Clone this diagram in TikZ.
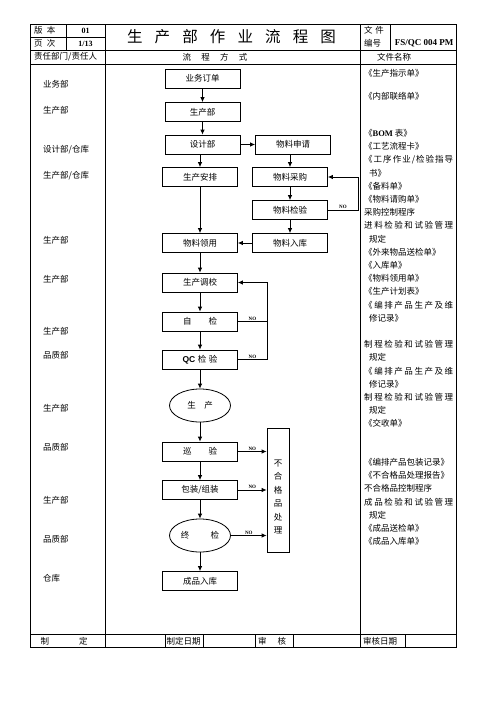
\documentclass[tikz,border=0pt]{standalone}
\usepackage{fontspec}
\setmainfont{Noto Sans CJK SC}
\newfontfamily\latin{Liberation Serif}
\newfontfamily\qcfont{Liberation Sans}
\usetikzlibrary{arrows.meta,shapes.geometric}
\def\spreadit#1#2\endspread{#1\ifx\relax#2\relax\else\hfill\spreadit#2\endspread\fi}
\newcommand{\fullline}[1]{\makebox[89pt][s]{\spreadit#1\endspread}}
\begin{document}
\begin{tikzpicture}[x=1pt,y=-1pt,
    box/.style={draw,line width=0.8pt,minimum width=75pt,minimum height=19pt,inner sep=0pt,font=\fontsize{8.5}{10}\selectfont},
    oval/.style={draw,ellipse,line width=0.8pt,minimum width=61pt,minimum height=33pt,inner sep=0pt,font=\fontsize{8.5}{10}\selectfont},
    flow/.style={line width=0.8pt,-{Latex[length=5pt,width=4.5pt]}},
    nolabel/.style={above,inner sep=0.8pt,font=\latin\bfseries\fontsize{5}{5}\selectfont},
    lbl/.style={anchor=west,inner sep=0pt,font=\fontsize{8.5}{10}\selectfont}]
    \useasboundingbox (0,0) rectangle (496,702);

    % table frame
    \draw[line width=0.8pt] (30,24) rectangle (456,647);
    \draw[line width=0.8pt] (30,37) -- (105,37) (30,50) -- (456,50) (30,64) -- (456,64) (30,634) -- (456,634)
        (66,24) -- (66,50) (105,24) -- (105,647) (360,24) -- (360,647) (390,24) -- (390,50)
        (165,634) -- (165,647) (203,634) -- (203,647) (255,634) -- (255,647) (293,634) -- (293,647) (405,634) -- (405,647);

    % header
    \node[lbl] (ver) at (34,30.5) {版\hspace{0.5em}本};
    \node[lbl] (page) at (34,43.5) {页\hspace{0.5em}次};
    \node[inner sep=0pt,font=\latin\bfseries\fontsize{8}{8}\selectfont] (vernum) at (85.5,30.5) {01};
    \node[inner sep=0pt,font=\latin\bfseries\fontsize{8}{8}\selectfont] (pagenum) at (85.5,43.5) {1/13};
    \node[inner sep=0pt,font=\fontsize{15.5}{16}\selectfont] (title) at (231.5,37) {\makebox[209pt][s]{生\hfill 产\hfill 部\hfill 作\hfill 业\hfill 流\hfill 程\hfill 图}};
    \node[lbl] (docword) at (364,30) {文\hspace{0.3em}件};
    \node[lbl] (numword) at (364,43) {编号};
    \node[inner sep=0pt,font=\latin\bfseries\fontsize{9}{9}\selectfont] (docnum) at (424,43) {FS/QC 004 PM};
    \node[lbl] (resp) at (34,57) {责任部门/责任人};
    \node[inner sep=0pt,font=\fontsize{8.5}{10}\selectfont] (method) at (215,57) {流\hspace{1.2em}程\hspace{1.2em}方\hspace{1.2em}式};
    \node[inner sep=0pt,font=\fontsize{8.5}{10}\selectfont] (docname) at (394,57) {文件名称};

    % departments
    \node[lbl] (dsales) at (43,84) {业务部};
    \node[lbl] (dprod) at (43,110) {生产部};
    \node[lbl] (ddesign) at (43,149.5) {设计部/仓库};
    \node[lbl] (dplan) at (43,175.5) {生产部/仓库};
    \node[lbl] (dpick) at (43,240) {生产部};
    \node[lbl] (dadjust) at (43,279) {生产部};
    \node[lbl] (dself) at (43,331.5) {生产部};
    \node[lbl] (dqc) at (43,355) {品质部};
    \node[lbl] (dproduce) at (43,408.5) {生产部};
    \node[lbl] (dpatrol) at (43,447.5) {品质部};
    \node[lbl] (dpack) at (43,500.5) {生产部};
    \node[lbl] (dfinal) at (43,539) {品质部};
    \node[lbl] (dstore) at (43,578.5) {仓库};

    % flow
    \node[box] (order) at (202.5,78.5) {业务订单};
    \node[box] (prod) at (202.5,112) {生产部};
    \node[box] (design) at (202.5,144.5) {设计部};
    \node[box] (apply) at (293,144.5) {物料申请};
    \node[box] (plan) at (200,177) {生产安排};
    \node[box] (purchase) at (290,177) {物料采购};
    \node[box] (inspect) at (290,210) {物料检验};
    \node[box] (pick) at (200,243) {物料领用};
    \node[box] (stockin) at (290,243) {物料入库};
    \node[box] (adjust) at (200,282.5) {生产调校};
    \node[box] (selfchk) at (200,321.5) {自\hspace{2em}检};
    \node[box] (qc) at (200,359.5) {{\qcfont\bfseries QC}\hspace{0.3em}检\hspace{0.3em}验};
    \node[oval] (produce) at (200,405.5) {生\hspace{1em}产};
    \node[box] (patrol) at (200,451.5) {巡\hspace{2em}验};
    \node[box] (pack) at (200,490) {包装/组装};
    \node[oval] (final) at (200,535.5) {终\hspace{2.5em}检};
    \node[box] (store) at (200,581) {成品入库};
    \node[draw,line width=0.8pt,minimum width=22pt,minimum height=124pt,inner sep=0pt,align=center,font=\fontsize{8.5}{13.4}\selectfont] (reject) at (278,490) {\rule{0pt}{7pt}\\不\\合\\格\\品\\处\\理};

    \draw[flow] (order.south) -- (prod.north);
    \draw[flow] (prod.south) -- (design.north);
    \draw[flow] (design.east) -- (apply.west);
    \draw[flow] (plan.north |- design.south) -- (plan.north);
    \draw[flow] (purchase.north |- apply.south) -- (purchase.north);
    \draw[flow] (purchase.south) -- (inspect.north);
    \draw[flow] (inspect.south) -- (stockin.north);
    \draw[flow] (inspect.east) -- node[nolabel] {NO} ++(30,0) |- (purchase.east);
    \draw[flow] (stockin.west) -- (pick.east);
    \draw[flow] (plan.south) -- (pick.north);
    \draw[flow] (pick.south) -- (adjust.north);
    \draw[flow] (adjust.south) -- (selfchk.north);
    \draw[flow] (selfchk.south) -- (qc.north);
    \draw[line width=0.8pt] (selfchk.east) -- node[nolabel] {NO} ++(29,0);
    \draw[flow] (qc.east) -- node[nolabel] {NO} ++(29,0) |- (adjust.east);
    \draw[flow] (qc.south) -- (produce.north);
    \draw[flow] (produce.south) -- (patrol.north);
    \draw[flow] (patrol.south) -- (pack.north);
    \draw[flow] (pack.south) -- (final.north);
    \draw[flow] (final.south) -- (store.north);
    \draw[flow] (patrol.east) -- node[nolabel] {NO} (patrol.east -| reject.west);
    \draw[flow] (pack.east) -- node[nolabel] {NO} (pack.east -| reject.west);
    \draw[flow] (final.east) -- node[nolabel] {NO} (final.east -| reject.west);

    % documents
    \node[anchor=north west,align=left,inner sep=0pt,font=\fontsize{8.5}{13.2}\selectfont] (docs) at (364,68.8) {%
        《生产指示单》\\[10.1pt]
        《内部联络单》\\[23.8pt]
        《{\latin\bfseries BOM} 表》\\
        《工艺流程卡》\\
        \fullline{《工序作业/检验指导}\\
        \hspace{5pt}书》\\
        《备料单》\\
        《物料请购单》\\
        采购控制程序\\
        \fullline{进料检验和试验管理}\\
        \hspace{5pt}规定\\
        《外来物品送检单》\\
        《入库单》\\
        《物料领用单》\\
        《生产计划表》\\
        \fullline{《编排产品生产及维}\\
        \hspace{5pt}修记录》\\[13.2pt]
        \fullline{制程检验和试验管理}\\
        \hspace{5pt}规定\\
        \fullline{《编排产品生产及维}\\
        \hspace{5pt}修记录》\\
        \fullline{制程检验和试验管理}\\
        \hspace{5pt}规定\\
        《交收单》\\[25.4pt]
        《编排产品包装记录》\\
        《不合格品处理报告》\\
        不合格品控制程序\\
        \fullline{成品检验和试验管理}\\
        \hspace{5pt}规定\\
        《成品送检单》\\
        《成品入库单》};

    % footer
    \node[lbl] (made) at (40.5,641) {制\hspace{30pt}定};
    \node[lbl] (madedate) at (166.5,641) {制定日期};
    \node[lbl] (check) at (258,641) {审\hspace{11pt}核};
    \node[lbl] (checkdate) at (363,641) {审核日期};
\end{tikzpicture}
\end{document}
